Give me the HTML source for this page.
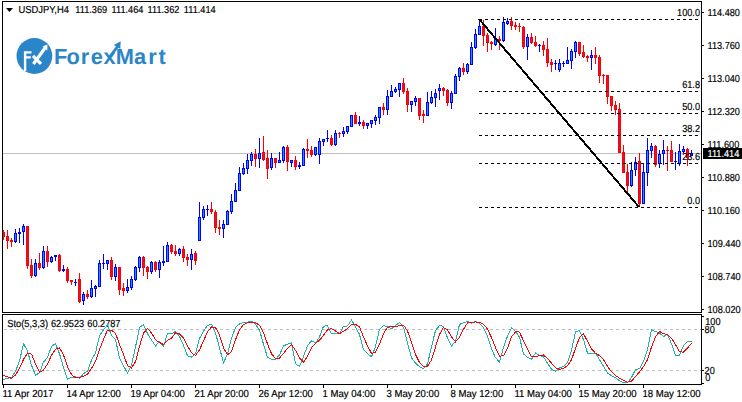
<!DOCTYPE html>
<html><head><meta charset="utf-8"><title>USDJPY H4</title>
<style>html,body{margin:0;padding:0;background:#fff}body{width:742px;height:402px;overflow:hidden}</style></head>
<body>
<svg width="742" height="402" viewBox="0 0 742 402" style="display:block;text-rendering:geometricPrecision;font-family:'Liberation Sans', Arial, sans-serif">
<rect width="742" height="402" fill="#fff"/>
<g shape-rendering="crispEdges">
<rect x="3" y="153" width="698" height="1" fill="#c0c0c0"/>
<rect x="3" y="230" width="1" height="10" fill="#ff0000"/>
<rect x="2" y="232" width="3" height="5" fill="#ff0000"/>
<rect x="3" y="233" width="1" height="3" fill="#dc143c"/>
<rect x="7" y="230" width="1" height="19" fill="#ff0000"/>
<rect x="6" y="236" width="3" height="5" fill="#ff0000"/>
<rect x="7" y="237" width="1" height="3" fill="#dc143c"/>
<rect x="11" y="238" width="1" height="9" fill="#ff0000"/>
<rect x="10" y="240" width="3" height="2" fill="#ff0000"/>
<rect x="15" y="229" width="1" height="14" fill="#0000ff"/>
<rect x="14" y="233" width="3" height="9" fill="#0000ff"/>
<rect x="15" y="234" width="1" height="7" fill="#1e90ff"/>
<rect x="19" y="228" width="1" height="15" fill="#0000ff"/>
<rect x="18" y="232" width="3" height="2" fill="#0000ff"/>
<rect x="23" y="224" width="1" height="21" fill="#0000ff"/>
<rect x="22" y="226" width="3" height="6" fill="#0000ff"/>
<rect x="23" y="227" width="1" height="4" fill="#1e90ff"/>
<rect x="27" y="226" width="1" height="43" fill="#ff0000"/>
<rect x="26" y="226" width="3" height="40" fill="#ff0000"/>
<rect x="27" y="227" width="1" height="38" fill="#dc143c"/>
<rect x="31" y="259" width="1" height="19" fill="#ff0000"/>
<rect x="30" y="265" width="3" height="11" fill="#ff0000"/>
<rect x="31" y="266" width="1" height="9" fill="#dc143c"/>
<rect x="35" y="259" width="1" height="18" fill="#0000ff"/>
<rect x="34" y="263" width="3" height="13" fill="#0000ff"/>
<rect x="35" y="264" width="1" height="11" fill="#1e90ff"/>
<rect x="39" y="253" width="1" height="17" fill="#ff0000"/>
<rect x="38" y="263" width="3" height="5" fill="#ff0000"/>
<rect x="39" y="264" width="1" height="3" fill="#dc143c"/>
<rect x="43" y="246" width="1" height="23" fill="#0000ff"/>
<rect x="42" y="251" width="3" height="17" fill="#0000ff"/>
<rect x="43" y="252" width="1" height="15" fill="#1e90ff"/>
<rect x="47" y="246" width="1" height="21" fill="#ff0000"/>
<rect x="46" y="251" width="3" height="11" fill="#ff0000"/>
<rect x="47" y="252" width="1" height="9" fill="#dc143c"/>
<rect x="51" y="256" width="1" height="7" fill="#0000ff"/>
<rect x="50" y="257" width="3" height="5" fill="#0000ff"/>
<rect x="51" y="258" width="1" height="3" fill="#1e90ff"/>
<rect x="55" y="255" width="1" height="6" fill="#0000ff"/>
<rect x="54" y="255" width="3" height="2" fill="#0000ff"/>
<rect x="59" y="254" width="1" height="18" fill="#ff0000"/>
<rect x="58" y="255" width="3" height="16" fill="#ff0000"/>
<rect x="59" y="256" width="1" height="14" fill="#dc143c"/>
<rect x="63" y="265" width="1" height="7" fill="#0000ff"/>
<rect x="62" y="269" width="3" height="2" fill="#0000ff"/>
<rect x="67" y="267" width="1" height="16" fill="#ff0000"/>
<rect x="66" y="269" width="3" height="12" fill="#ff0000"/>
<rect x="67" y="270" width="1" height="10" fill="#dc143c"/>
<rect x="71" y="280" width="1" height="5" fill="#ff0000"/>
<rect x="70" y="280" width="3" height="2" fill="#ff0000"/>
<rect x="75" y="279" width="1" height="7" fill="#0000ff"/>
<rect x="74" y="282" width="3" height="1" fill="#0000ff"/>
<rect x="79" y="273" width="1" height="30" fill="#ff0000"/>
<rect x="78" y="279" width="3" height="23" fill="#ff0000"/>
<rect x="79" y="280" width="1" height="21" fill="#dc143c"/>
<rect x="83" y="292" width="1" height="13" fill="#0000ff"/>
<rect x="82" y="294" width="3" height="7" fill="#0000ff"/>
<rect x="83" y="295" width="1" height="5" fill="#1e90ff"/>
<rect x="87" y="290" width="1" height="9" fill="#ff0000"/>
<rect x="86" y="294" width="3" height="3" fill="#ff0000"/>
<rect x="87" y="295" width="1" height="1" fill="#dc143c"/>
<rect x="91" y="280" width="1" height="18" fill="#0000ff"/>
<rect x="90" y="288" width="3" height="9" fill="#0000ff"/>
<rect x="91" y="289" width="1" height="7" fill="#1e90ff"/>
<rect x="95" y="285" width="1" height="12" fill="#0000ff"/>
<rect x="94" y="286" width="3" height="3" fill="#0000ff"/>
<rect x="95" y="287" width="1" height="1" fill="#1e90ff"/>
<rect x="99" y="260" width="1" height="27" fill="#0000ff"/>
<rect x="98" y="263" width="3" height="24" fill="#0000ff"/>
<rect x="99" y="264" width="1" height="22" fill="#1e90ff"/>
<rect x="103" y="254" width="1" height="15" fill="#0000ff"/>
<rect x="102" y="263" width="3" height="1" fill="#0000ff"/>
<rect x="107" y="260" width="1" height="10" fill="#0000ff"/>
<rect x="106" y="260" width="3" height="4" fill="#0000ff"/>
<rect x="107" y="261" width="1" height="2" fill="#1e90ff"/>
<rect x="111" y="257" width="1" height="23" fill="#ff0000"/>
<rect x="110" y="260" width="3" height="17" fill="#ff0000"/>
<rect x="111" y="261" width="1" height="15" fill="#dc143c"/>
<rect x="115" y="264" width="1" height="17" fill="#0000ff"/>
<rect x="114" y="267" width="3" height="10" fill="#0000ff"/>
<rect x="115" y="268" width="1" height="8" fill="#1e90ff"/>
<rect x="119" y="267" width="1" height="28" fill="#ff0000"/>
<rect x="118" y="267" width="3" height="23" fill="#ff0000"/>
<rect x="119" y="268" width="1" height="21" fill="#dc143c"/>
<rect x="123" y="283" width="1" height="13" fill="#ff0000"/>
<rect x="122" y="288" width="3" height="3" fill="#ff0000"/>
<rect x="123" y="289" width="1" height="1" fill="#dc143c"/>
<rect x="127" y="279" width="1" height="14" fill="#0000ff"/>
<rect x="126" y="287" width="3" height="4" fill="#0000ff"/>
<rect x="127" y="288" width="1" height="2" fill="#1e90ff"/>
<rect x="131" y="276" width="1" height="14" fill="#0000ff"/>
<rect x="130" y="279" width="3" height="9" fill="#0000ff"/>
<rect x="131" y="280" width="1" height="7" fill="#1e90ff"/>
<rect x="135" y="266" width="1" height="15" fill="#0000ff"/>
<rect x="134" y="267" width="3" height="13" fill="#0000ff"/>
<rect x="135" y="268" width="1" height="11" fill="#1e90ff"/>
<rect x="139" y="256" width="1" height="16" fill="#0000ff"/>
<rect x="138" y="257" width="3" height="11" fill="#0000ff"/>
<rect x="139" y="258" width="1" height="9" fill="#1e90ff"/>
<rect x="143" y="256" width="1" height="20" fill="#ff0000"/>
<rect x="142" y="257" width="3" height="11" fill="#ff0000"/>
<rect x="143" y="258" width="1" height="9" fill="#dc143c"/>
<rect x="147" y="266" width="1" height="13" fill="#ff0000"/>
<rect x="146" y="267" width="3" height="5" fill="#ff0000"/>
<rect x="147" y="268" width="1" height="3" fill="#dc143c"/>
<rect x="151" y="261" width="1" height="13" fill="#0000ff"/>
<rect x="150" y="262" width="3" height="10" fill="#0000ff"/>
<rect x="151" y="263" width="1" height="8" fill="#1e90ff"/>
<rect x="155" y="261" width="1" height="11" fill="#ff0000"/>
<rect x="154" y="262" width="3" height="8" fill="#ff0000"/>
<rect x="155" y="263" width="1" height="6" fill="#dc143c"/>
<rect x="159" y="260" width="1" height="18" fill="#0000ff"/>
<rect x="158" y="262" width="3" height="8" fill="#0000ff"/>
<rect x="159" y="263" width="1" height="6" fill="#1e90ff"/>
<rect x="163" y="246" width="1" height="20" fill="#0000ff"/>
<rect x="162" y="261" width="3" height="2" fill="#0000ff"/>
<rect x="167" y="242" width="1" height="20" fill="#0000ff"/>
<rect x="166" y="245" width="3" height="17" fill="#0000ff"/>
<rect x="167" y="246" width="1" height="15" fill="#1e90ff"/>
<rect x="171" y="244" width="1" height="10" fill="#ff0000"/>
<rect x="170" y="245" width="3" height="7" fill="#ff0000"/>
<rect x="171" y="246" width="1" height="5" fill="#dc143c"/>
<rect x="175" y="245" width="1" height="11" fill="#ff0000"/>
<rect x="174" y="251" width="3" height="3" fill="#ff0000"/>
<rect x="175" y="252" width="1" height="1" fill="#dc143c"/>
<rect x="179" y="248" width="1" height="8" fill="#0000ff"/>
<rect x="178" y="249" width="3" height="5" fill="#0000ff"/>
<rect x="179" y="250" width="1" height="3" fill="#1e90ff"/>
<rect x="183" y="246" width="1" height="16" fill="#ff0000"/>
<rect x="182" y="249" width="3" height="9" fill="#ff0000"/>
<rect x="183" y="250" width="1" height="7" fill="#dc143c"/>
<rect x="187" y="254" width="1" height="12" fill="#ff0000"/>
<rect x="186" y="257" width="3" height="3" fill="#ff0000"/>
<rect x="187" y="258" width="1" height="1" fill="#dc143c"/>
<rect x="191" y="249" width="1" height="21" fill="#0000ff"/>
<rect x="190" y="254" width="3" height="6" fill="#0000ff"/>
<rect x="191" y="255" width="1" height="4" fill="#1e90ff"/>
<rect x="195" y="251" width="1" height="14" fill="#ff0000"/>
<rect x="194" y="253" width="3" height="8" fill="#ff0000"/>
<rect x="195" y="254" width="1" height="6" fill="#dc143c"/>
<rect x="199" y="202" width="1" height="39" fill="#0000ff"/>
<rect x="198" y="217" width="3" height="24" fill="#0000ff"/>
<rect x="199" y="218" width="1" height="22" fill="#1e90ff"/>
<rect x="203" y="206" width="1" height="14" fill="#0000ff"/>
<rect x="202" y="209" width="3" height="9" fill="#0000ff"/>
<rect x="203" y="210" width="1" height="7" fill="#1e90ff"/>
<rect x="207" y="205" width="1" height="11" fill="#0000ff"/>
<rect x="206" y="209" width="3" height="1" fill="#0000ff"/>
<rect x="211" y="202" width="1" height="12" fill="#ff0000"/>
<rect x="210" y="209" width="3" height="3" fill="#ff0000"/>
<rect x="211" y="210" width="1" height="1" fill="#dc143c"/>
<rect x="215" y="210" width="1" height="23" fill="#ff0000"/>
<rect x="214" y="212" width="3" height="16" fill="#ff0000"/>
<rect x="215" y="213" width="1" height="14" fill="#dc143c"/>
<rect x="219" y="220" width="1" height="15" fill="#ff0000"/>
<rect x="218" y="227" width="3" height="2" fill="#ff0000"/>
<rect x="223" y="220" width="1" height="18" fill="#0000ff"/>
<rect x="222" y="224" width="3" height="5" fill="#0000ff"/>
<rect x="223" y="225" width="1" height="3" fill="#1e90ff"/>
<rect x="227" y="210" width="1" height="15" fill="#0000ff"/>
<rect x="226" y="211" width="3" height="14" fill="#0000ff"/>
<rect x="227" y="212" width="1" height="12" fill="#1e90ff"/>
<rect x="231" y="194" width="1" height="20" fill="#0000ff"/>
<rect x="230" y="201" width="3" height="11" fill="#0000ff"/>
<rect x="231" y="202" width="1" height="9" fill="#1e90ff"/>
<rect x="235" y="183" width="1" height="19" fill="#0000ff"/>
<rect x="234" y="190" width="3" height="12" fill="#0000ff"/>
<rect x="235" y="191" width="1" height="10" fill="#1e90ff"/>
<rect x="239" y="167" width="1" height="24" fill="#0000ff"/>
<rect x="238" y="173" width="3" height="18" fill="#0000ff"/>
<rect x="239" y="174" width="1" height="16" fill="#1e90ff"/>
<rect x="243" y="163" width="1" height="12" fill="#0000ff"/>
<rect x="242" y="168" width="3" height="6" fill="#0000ff"/>
<rect x="243" y="169" width="1" height="4" fill="#1e90ff"/>
<rect x="247" y="154" width="1" height="20" fill="#0000ff"/>
<rect x="246" y="160" width="3" height="9" fill="#0000ff"/>
<rect x="247" y="161" width="1" height="7" fill="#1e90ff"/>
<rect x="251" y="152" width="1" height="14" fill="#0000ff"/>
<rect x="250" y="154" width="3" height="7" fill="#0000ff"/>
<rect x="251" y="155" width="1" height="5" fill="#1e90ff"/>
<rect x="255" y="149" width="1" height="18" fill="#ff0000"/>
<rect x="254" y="154" width="3" height="5" fill="#ff0000"/>
<rect x="255" y="155" width="1" height="3" fill="#dc143c"/>
<rect x="259" y="138" width="1" height="30" fill="#0000ff"/>
<rect x="258" y="153" width="3" height="6" fill="#0000ff"/>
<rect x="259" y="154" width="1" height="4" fill="#1e90ff"/>
<rect x="263" y="136" width="1" height="25" fill="#ff0000"/>
<rect x="262" y="152" width="3" height="8" fill="#ff0000"/>
<rect x="263" y="153" width="1" height="6" fill="#dc143c"/>
<rect x="267" y="150" width="1" height="29" fill="#ff0000"/>
<rect x="266" y="158" width="3" height="11" fill="#ff0000"/>
<rect x="267" y="159" width="1" height="9" fill="#dc143c"/>
<rect x="271" y="153" width="1" height="17" fill="#0000ff"/>
<rect x="270" y="158" width="3" height="10" fill="#0000ff"/>
<rect x="271" y="159" width="1" height="8" fill="#1e90ff"/>
<rect x="275" y="158" width="1" height="10" fill="#ff0000"/>
<rect x="274" y="158" width="3" height="5" fill="#ff0000"/>
<rect x="275" y="159" width="1" height="3" fill="#dc143c"/>
<rect x="279" y="152" width="1" height="11" fill="#0000ff"/>
<rect x="278" y="160" width="3" height="3" fill="#0000ff"/>
<rect x="279" y="161" width="1" height="1" fill="#1e90ff"/>
<rect x="283" y="146" width="1" height="17" fill="#0000ff"/>
<rect x="282" y="147" width="3" height="14" fill="#0000ff"/>
<rect x="283" y="148" width="1" height="12" fill="#1e90ff"/>
<rect x="287" y="145" width="1" height="26" fill="#ff0000"/>
<rect x="286" y="147" width="3" height="15" fill="#ff0000"/>
<rect x="287" y="148" width="1" height="13" fill="#dc143c"/>
<rect x="291" y="160" width="1" height="7" fill="#0000ff"/>
<rect x="290" y="160" width="3" height="3" fill="#0000ff"/>
<rect x="291" y="161" width="1" height="1" fill="#1e90ff"/>
<rect x="295" y="156" width="1" height="14" fill="#ff0000"/>
<rect x="294" y="160" width="3" height="7" fill="#ff0000"/>
<rect x="295" y="161" width="1" height="5" fill="#dc143c"/>
<rect x="299" y="162" width="1" height="7" fill="#0000ff"/>
<rect x="298" y="165" width="3" height="2" fill="#0000ff"/>
<rect x="303" y="148" width="1" height="18" fill="#0000ff"/>
<rect x="302" y="149" width="3" height="17" fill="#0000ff"/>
<rect x="303" y="150" width="1" height="15" fill="#1e90ff"/>
<rect x="307" y="139" width="1" height="19" fill="#ff0000"/>
<rect x="306" y="149" width="3" height="2" fill="#ff0000"/>
<rect x="311" y="146" width="1" height="11" fill="#ff0000"/>
<rect x="310" y="150" width="3" height="5" fill="#ff0000"/>
<rect x="311" y="151" width="1" height="3" fill="#dc143c"/>
<rect x="315" y="147" width="1" height="9" fill="#0000ff"/>
<rect x="314" y="147" width="3" height="8" fill="#0000ff"/>
<rect x="315" y="148" width="1" height="6" fill="#1e90ff"/>
<rect x="319" y="138" width="1" height="26" fill="#0000ff"/>
<rect x="318" y="141" width="3" height="14" fill="#0000ff"/>
<rect x="319" y="142" width="1" height="12" fill="#1e90ff"/>
<rect x="323" y="139" width="1" height="7" fill="#0000ff"/>
<rect x="322" y="139" width="3" height="3" fill="#0000ff"/>
<rect x="323" y="140" width="1" height="1" fill="#1e90ff"/>
<rect x="327" y="130" width="1" height="12" fill="#0000ff"/>
<rect x="326" y="138" width="3" height="1" fill="#0000ff"/>
<rect x="331" y="135" width="1" height="11" fill="#ff0000"/>
<rect x="330" y="138" width="3" height="7" fill="#ff0000"/>
<rect x="331" y="139" width="1" height="5" fill="#dc143c"/>
<rect x="335" y="130" width="1" height="16" fill="#0000ff"/>
<rect x="334" y="133" width="3" height="12" fill="#0000ff"/>
<rect x="335" y="134" width="1" height="10" fill="#1e90ff"/>
<rect x="339" y="132" width="1" height="6" fill="#ff0000"/>
<rect x="338" y="133" width="3" height="1" fill="#ff0000"/>
<rect x="343" y="127" width="1" height="10" fill="#0000ff"/>
<rect x="342" y="131" width="3" height="3" fill="#0000ff"/>
<rect x="343" y="132" width="1" height="1" fill="#1e90ff"/>
<rect x="347" y="126" width="1" height="8" fill="#0000ff"/>
<rect x="346" y="126" width="3" height="6" fill="#0000ff"/>
<rect x="347" y="127" width="1" height="4" fill="#1e90ff"/>
<rect x="351" y="115" width="1" height="12" fill="#0000ff"/>
<rect x="350" y="115" width="3" height="12" fill="#0000ff"/>
<rect x="351" y="116" width="1" height="10" fill="#1e90ff"/>
<rect x="355" y="112" width="1" height="12" fill="#ff0000"/>
<rect x="354" y="115" width="3" height="9" fill="#ff0000"/>
<rect x="355" y="116" width="1" height="7" fill="#dc143c"/>
<rect x="359" y="116" width="1" height="10" fill="#0000ff"/>
<rect x="358" y="122" width="3" height="2" fill="#0000ff"/>
<rect x="363" y="120" width="1" height="9" fill="#ff0000"/>
<rect x="362" y="122" width="3" height="4" fill="#ff0000"/>
<rect x="363" y="123" width="1" height="2" fill="#dc143c"/>
<rect x="367" y="123" width="1" height="6" fill="#0000ff"/>
<rect x="366" y="123" width="3" height="3" fill="#0000ff"/>
<rect x="367" y="124" width="1" height="1" fill="#1e90ff"/>
<rect x="371" y="120" width="1" height="8" fill="#0000ff"/>
<rect x="370" y="120" width="3" height="4" fill="#0000ff"/>
<rect x="371" y="121" width="1" height="2" fill="#1e90ff"/>
<rect x="375" y="115" width="1" height="10" fill="#0000ff"/>
<rect x="374" y="117" width="3" height="4" fill="#0000ff"/>
<rect x="375" y="118" width="1" height="2" fill="#1e90ff"/>
<rect x="379" y="107" width="1" height="17" fill="#0000ff"/>
<rect x="378" y="107" width="3" height="11" fill="#0000ff"/>
<rect x="379" y="108" width="1" height="9" fill="#1e90ff"/>
<rect x="383" y="103" width="1" height="12" fill="#ff0000"/>
<rect x="382" y="107" width="3" height="3" fill="#ff0000"/>
<rect x="383" y="108" width="1" height="1" fill="#dc143c"/>
<rect x="387" y="90" width="1" height="25" fill="#0000ff"/>
<rect x="386" y="96" width="3" height="14" fill="#0000ff"/>
<rect x="387" y="97" width="1" height="12" fill="#1e90ff"/>
<rect x="391" y="85" width="1" height="12" fill="#0000ff"/>
<rect x="390" y="91" width="3" height="6" fill="#0000ff"/>
<rect x="391" y="92" width="1" height="4" fill="#1e90ff"/>
<rect x="395" y="87" width="1" height="6" fill="#0000ff"/>
<rect x="394" y="89" width="3" height="3" fill="#0000ff"/>
<rect x="395" y="90" width="1" height="1" fill="#1e90ff"/>
<rect x="399" y="83" width="1" height="14" fill="#0000ff"/>
<rect x="398" y="83" width="3" height="7" fill="#0000ff"/>
<rect x="399" y="84" width="1" height="5" fill="#1e90ff"/>
<rect x="403" y="78" width="1" height="16" fill="#ff0000"/>
<rect x="402" y="83" width="3" height="9" fill="#ff0000"/>
<rect x="403" y="84" width="1" height="7" fill="#dc143c"/>
<rect x="407" y="88" width="1" height="24" fill="#ff0000"/>
<rect x="406" y="91" width="3" height="14" fill="#ff0000"/>
<rect x="407" y="92" width="1" height="12" fill="#dc143c"/>
<rect x="411" y="101" width="1" height="11" fill="#0000ff"/>
<rect x="410" y="101" width="3" height="4" fill="#0000ff"/>
<rect x="411" y="102" width="1" height="2" fill="#1e90ff"/>
<rect x="415" y="96" width="1" height="10" fill="#0000ff"/>
<rect x="414" y="98" width="3" height="4" fill="#0000ff"/>
<rect x="415" y="99" width="1" height="2" fill="#1e90ff"/>
<rect x="419" y="98" width="1" height="22" fill="#ff0000"/>
<rect x="418" y="98" width="3" height="18" fill="#ff0000"/>
<rect x="419" y="99" width="1" height="16" fill="#dc143c"/>
<rect x="423" y="110" width="1" height="13" fill="#ff0000"/>
<rect x="422" y="114" width="3" height="2" fill="#ff0000"/>
<rect x="427" y="92" width="1" height="24" fill="#0000ff"/>
<rect x="426" y="102" width="3" height="14" fill="#0000ff"/>
<rect x="427" y="103" width="1" height="12" fill="#1e90ff"/>
<rect x="431" y="91" width="1" height="13" fill="#0000ff"/>
<rect x="430" y="97" width="3" height="6" fill="#0000ff"/>
<rect x="431" y="98" width="1" height="4" fill="#1e90ff"/>
<rect x="435" y="89" width="1" height="18" fill="#0000ff"/>
<rect x="434" y="93" width="3" height="5" fill="#0000ff"/>
<rect x="435" y="94" width="1" height="3" fill="#1e90ff"/>
<rect x="439" y="84" width="1" height="16" fill="#0000ff"/>
<rect x="438" y="88" width="3" height="3" fill="#0000ff"/>
<rect x="439" y="89" width="1" height="1" fill="#1e90ff"/>
<rect x="443" y="87" width="1" height="9" fill="#ff0000"/>
<rect x="442" y="88" width="3" height="3" fill="#ff0000"/>
<rect x="443" y="89" width="1" height="1" fill="#dc143c"/>
<rect x="447" y="89" width="1" height="17" fill="#ff0000"/>
<rect x="446" y="90" width="3" height="13" fill="#ff0000"/>
<rect x="447" y="91" width="1" height="11" fill="#dc143c"/>
<rect x="451" y="91" width="1" height="18" fill="#0000ff"/>
<rect x="450" y="93" width="3" height="10" fill="#0000ff"/>
<rect x="451" y="94" width="1" height="8" fill="#1e90ff"/>
<rect x="455" y="74" width="1" height="20" fill="#0000ff"/>
<rect x="454" y="76" width="3" height="18" fill="#0000ff"/>
<rect x="455" y="77" width="1" height="16" fill="#1e90ff"/>
<rect x="459" y="67" width="1" height="14" fill="#0000ff"/>
<rect x="458" y="68" width="3" height="9" fill="#0000ff"/>
<rect x="459" y="69" width="1" height="7" fill="#1e90ff"/>
<rect x="463" y="63" width="1" height="12" fill="#ff0000"/>
<rect x="462" y="68" width="3" height="4" fill="#ff0000"/>
<rect x="463" y="69" width="1" height="2" fill="#dc143c"/>
<rect x="467" y="63" width="1" height="11" fill="#0000ff"/>
<rect x="466" y="64" width="3" height="8" fill="#0000ff"/>
<rect x="467" y="65" width="1" height="6" fill="#1e90ff"/>
<rect x="471" y="42" width="1" height="23" fill="#0000ff"/>
<rect x="470" y="47" width="3" height="18" fill="#0000ff"/>
<rect x="471" y="48" width="1" height="16" fill="#1e90ff"/>
<rect x="475" y="29" width="1" height="20" fill="#0000ff"/>
<rect x="474" y="34" width="3" height="14" fill="#0000ff"/>
<rect x="475" y="35" width="1" height="12" fill="#1e90ff"/>
<rect x="479" y="19" width="1" height="16" fill="#0000ff"/>
<rect x="478" y="26" width="3" height="9" fill="#0000ff"/>
<rect x="479" y="27" width="1" height="7" fill="#1e90ff"/>
<rect x="483" y="20" width="1" height="26" fill="#ff0000"/>
<rect x="482" y="26" width="3" height="10" fill="#ff0000"/>
<rect x="483" y="27" width="1" height="8" fill="#dc143c"/>
<rect x="487" y="33" width="1" height="19" fill="#ff0000"/>
<rect x="486" y="35" width="3" height="8" fill="#ff0000"/>
<rect x="487" y="36" width="1" height="6" fill="#dc143c"/>
<rect x="491" y="41" width="1" height="9" fill="#ff0000"/>
<rect x="490" y="42" width="3" height="2" fill="#ff0000"/>
<rect x="495" y="28" width="1" height="18" fill="#0000ff"/>
<rect x="494" y="39" width="3" height="6" fill="#0000ff"/>
<rect x="495" y="40" width="1" height="4" fill="#1e90ff"/>
<rect x="499" y="36" width="1" height="14" fill="#ff0000"/>
<rect x="498" y="39" width="3" height="2" fill="#ff0000"/>
<rect x="503" y="17" width="1" height="25" fill="#0000ff"/>
<rect x="502" y="22" width="3" height="19" fill="#0000ff"/>
<rect x="503" y="23" width="1" height="17" fill="#1e90ff"/>
<rect x="507" y="18" width="1" height="7" fill="#0000ff"/>
<rect x="506" y="21" width="3" height="3" fill="#0000ff"/>
<rect x="507" y="22" width="1" height="1" fill="#1e90ff"/>
<rect x="511" y="17" width="1" height="13" fill="#ff0000"/>
<rect x="510" y="21" width="3" height="5" fill="#ff0000"/>
<rect x="511" y="22" width="1" height="3" fill="#dc143c"/>
<rect x="515" y="22" width="1" height="8" fill="#ff0000"/>
<rect x="514" y="25" width="3" height="2" fill="#ff0000"/>
<rect x="519" y="23" width="1" height="9" fill="#ff0000"/>
<rect x="518" y="26" width="3" height="1" fill="#ff0000"/>
<rect x="523" y="26" width="1" height="23" fill="#ff0000"/>
<rect x="522" y="27" width="3" height="20" fill="#ff0000"/>
<rect x="523" y="28" width="1" height="18" fill="#dc143c"/>
<rect x="527" y="34" width="1" height="26" fill="#0000ff"/>
<rect x="526" y="37" width="3" height="10" fill="#0000ff"/>
<rect x="527" y="38" width="1" height="8" fill="#1e90ff"/>
<rect x="531" y="33" width="1" height="11" fill="#ff0000"/>
<rect x="530" y="37" width="3" height="6" fill="#ff0000"/>
<rect x="531" y="38" width="1" height="4" fill="#dc143c"/>
<rect x="535" y="36" width="1" height="11" fill="#ff0000"/>
<rect x="534" y="42" width="3" height="4" fill="#ff0000"/>
<rect x="535" y="43" width="1" height="2" fill="#dc143c"/>
<rect x="539" y="44" width="1" height="8" fill="#0000ff"/>
<rect x="538" y="45" width="3" height="1" fill="#0000ff"/>
<rect x="543" y="41" width="1" height="15" fill="#ff0000"/>
<rect x="542" y="45" width="3" height="5" fill="#ff0000"/>
<rect x="543" y="46" width="1" height="3" fill="#dc143c"/>
<rect x="547" y="38" width="1" height="29" fill="#ff0000"/>
<rect x="546" y="49" width="3" height="14" fill="#ff0000"/>
<rect x="547" y="50" width="1" height="12" fill="#dc143c"/>
<rect x="551" y="59" width="1" height="13" fill="#ff0000"/>
<rect x="550" y="62" width="3" height="3" fill="#ff0000"/>
<rect x="551" y="63" width="1" height="1" fill="#dc143c"/>
<rect x="555" y="60" width="1" height="10" fill="#0000ff"/>
<rect x="554" y="63" width="3" height="1" fill="#0000ff"/>
<rect x="559" y="59" width="1" height="13" fill="#0000ff"/>
<rect x="558" y="63" width="3" height="7" fill="#0000ff"/>
<rect x="559" y="64" width="1" height="5" fill="#1e90ff"/>
<rect x="563" y="61" width="1" height="6" fill="#0000ff"/>
<rect x="562" y="63" width="3" height="1" fill="#0000ff"/>
<rect x="567" y="47" width="1" height="17" fill="#0000ff"/>
<rect x="566" y="60" width="3" height="4" fill="#0000ff"/>
<rect x="567" y="61" width="1" height="2" fill="#1e90ff"/>
<rect x="571" y="49" width="1" height="20" fill="#0000ff"/>
<rect x="570" y="51" width="3" height="10" fill="#0000ff"/>
<rect x="571" y="52" width="1" height="8" fill="#1e90ff"/>
<rect x="575" y="41" width="1" height="17" fill="#0000ff"/>
<rect x="574" y="42" width="3" height="10" fill="#0000ff"/>
<rect x="575" y="43" width="1" height="8" fill="#1e90ff"/>
<rect x="579" y="42" width="1" height="14" fill="#ff0000"/>
<rect x="578" y="42" width="3" height="12" fill="#ff0000"/>
<rect x="579" y="43" width="1" height="10" fill="#dc143c"/>
<rect x="583" y="45" width="1" height="13" fill="#ff0000"/>
<rect x="582" y="52" width="3" height="5" fill="#ff0000"/>
<rect x="583" y="53" width="1" height="3" fill="#dc143c"/>
<rect x="587" y="55" width="1" height="7" fill="#ff0000"/>
<rect x="586" y="56" width="3" height="2" fill="#ff0000"/>
<rect x="591" y="50" width="1" height="20" fill="#0000ff"/>
<rect x="590" y="55" width="3" height="3" fill="#0000ff"/>
<rect x="591" y="56" width="1" height="1" fill="#1e90ff"/>
<rect x="595" y="47" width="1" height="17" fill="#ff0000"/>
<rect x="594" y="55" width="3" height="3" fill="#ff0000"/>
<rect x="595" y="56" width="1" height="1" fill="#dc143c"/>
<rect x="599" y="55" width="1" height="28" fill="#ff0000"/>
<rect x="598" y="57" width="3" height="19" fill="#ff0000"/>
<rect x="599" y="58" width="1" height="17" fill="#dc143c"/>
<rect x="603" y="74" width="1" height="10" fill="#ff0000"/>
<rect x="602" y="75" width="3" height="1" fill="#ff0000"/>
<rect x="607" y="75" width="1" height="29" fill="#ff0000"/>
<rect x="606" y="75" width="3" height="22" fill="#ff0000"/>
<rect x="607" y="76" width="1" height="20" fill="#dc143c"/>
<rect x="611" y="96" width="1" height="15" fill="#ff0000"/>
<rect x="610" y="96" width="3" height="10" fill="#ff0000"/>
<rect x="611" y="97" width="1" height="8" fill="#dc143c"/>
<rect x="615" y="101" width="1" height="14" fill="#ff0000"/>
<rect x="614" y="105" width="3" height="5" fill="#ff0000"/>
<rect x="615" y="106" width="1" height="3" fill="#dc143c"/>
<rect x="619" y="103" width="1" height="50" fill="#ff0000"/>
<rect x="618" y="109" width="3" height="44" fill="#ff0000"/>
<rect x="619" y="110" width="1" height="42" fill="#dc143c"/>
<rect x="623" y="145" width="1" height="28" fill="#ff0000"/>
<rect x="622" y="152" width="3" height="21" fill="#ff0000"/>
<rect x="623" y="153" width="1" height="19" fill="#dc143c"/>
<rect x="627" y="164" width="1" height="28" fill="#ff0000"/>
<rect x="626" y="172" width="3" height="14" fill="#ff0000"/>
<rect x="627" y="173" width="1" height="12" fill="#dc143c"/>
<rect x="631" y="162" width="1" height="25" fill="#0000ff"/>
<rect x="630" y="170" width="3" height="16" fill="#0000ff"/>
<rect x="631" y="171" width="1" height="14" fill="#1e90ff"/>
<rect x="635" y="157" width="1" height="19" fill="#0000ff"/>
<rect x="634" y="162" width="3" height="8" fill="#0000ff"/>
<rect x="635" y="163" width="1" height="6" fill="#1e90ff"/>
<rect x="639" y="153" width="1" height="53" fill="#ff0000"/>
<rect x="638" y="161" width="3" height="43" fill="#ff0000"/>
<rect x="639" y="162" width="1" height="41" fill="#dc143c"/>
<rect x="643" y="163" width="1" height="41" fill="#0000ff"/>
<rect x="642" y="172" width="3" height="32" fill="#0000ff"/>
<rect x="643" y="173" width="1" height="30" fill="#1e90ff"/>
<rect x="647" y="138" width="1" height="48" fill="#0000ff"/>
<rect x="646" y="150" width="3" height="23" fill="#0000ff"/>
<rect x="647" y="151" width="1" height="21" fill="#1e90ff"/>
<rect x="651" y="143" width="1" height="15" fill="#0000ff"/>
<rect x="650" y="146" width="3" height="5" fill="#0000ff"/>
<rect x="651" y="147" width="1" height="3" fill="#1e90ff"/>
<rect x="655" y="145" width="1" height="22" fill="#ff0000"/>
<rect x="654" y="146" width="3" height="19" fill="#ff0000"/>
<rect x="655" y="147" width="1" height="17" fill="#dc143c"/>
<rect x="659" y="150" width="1" height="18" fill="#0000ff"/>
<rect x="658" y="154" width="3" height="10" fill="#0000ff"/>
<rect x="659" y="155" width="1" height="8" fill="#1e90ff"/>
<rect x="663" y="140" width="1" height="25" fill="#0000ff"/>
<rect x="662" y="150" width="3" height="4" fill="#0000ff"/>
<rect x="663" y="151" width="1" height="2" fill="#1e90ff"/>
<rect x="667" y="146" width="1" height="25" fill="#ff0000"/>
<rect x="666" y="150" width="3" height="1" fill="#ff0000"/>
<rect x="671" y="141" width="1" height="21" fill="#ff0000"/>
<rect x="670" y="150" width="3" height="12" fill="#ff0000"/>
<rect x="671" y="151" width="1" height="10" fill="#dc143c"/>
<rect x="675" y="152" width="1" height="18" fill="#0000ff"/>
<rect x="674" y="161" width="3" height="1" fill="#0000ff"/>
<rect x="679" y="144" width="1" height="22" fill="#0000ff"/>
<rect x="678" y="151" width="3" height="13" fill="#0000ff"/>
<rect x="679" y="152" width="1" height="11" fill="#1e90ff"/>
<rect x="683" y="146" width="1" height="7" fill="#0000ff"/>
<rect x="682" y="149" width="3" height="3" fill="#0000ff"/>
<rect x="683" y="150" width="1" height="1" fill="#1e90ff"/>
<rect x="687" y="148" width="1" height="18" fill="#ff0000"/>
<rect x="686" y="149" width="3" height="9" fill="#ff0000"/>
<rect x="687" y="150" width="1" height="7" fill="#dc143c"/>
<rect x="691" y="150" width="1" height="6" fill="#0000ff"/>
<rect x="690" y="153" width="3" height="3" fill="#0000ff"/>
<rect x="691" y="154" width="1" height="1" fill="#1e90ff"/>
<rect x="2" y="1" width="700" height="1" fill="#000"/>
<rect x="2" y="312" width="700" height="1" fill="#000"/>
<rect x="2" y="1" width="1" height="312" fill="#000"/>
<rect x="701" y="1" width="1" height="312" fill="#000"/>
<rect x="2" y="314" width="700" height="1" fill="#000"/>
<rect x="2" y="384" width="700" height="1" fill="#000"/>
<rect x="2" y="314" width="1" height="71" fill="#000"/>
<rect x="701" y="314" width="1" height="71" fill="#000"/>
<rect x="702" y="12" width="2" height="1" fill="#000"/>
<rect x="702" y="45" width="2" height="1" fill="#000"/>
<rect x="702" y="78" width="2" height="1" fill="#000"/>
<rect x="702" y="111" width="2" height="1" fill="#000"/>
<rect x="702" y="144" width="2" height="1" fill="#000"/>
<rect x="702" y="177" width="2" height="1" fill="#000"/>
<rect x="702" y="210" width="2" height="1" fill="#000"/>
<rect x="702" y="243" width="2" height="1" fill="#000"/>
<rect x="702" y="276" width="2" height="1" fill="#000"/>
<rect x="702" y="309" width="2" height="1" fill="#000"/>
<rect x="702" y="316" width="2" height="1" fill="#000"/>
<rect x="702" y="329" width="2" height="1" fill="#000"/>
<rect x="702" y="370" width="2" height="1" fill="#000"/>
<rect x="702" y="383" width="2" height="1" fill="#000"/>
<rect x="3" y="385" width="1" height="3" fill="#000"/>
<rect x="67" y="385" width="1" height="3" fill="#000"/>
<rect x="131" y="385" width="1" height="3" fill="#000"/>
<rect x="195" y="385" width="1" height="3" fill="#000"/>
<rect x="259" y="385" width="1" height="3" fill="#000"/>
<rect x="323" y="385" width="1" height="3" fill="#000"/>
<rect x="387" y="385" width="1" height="3" fill="#000"/>
<rect x="451" y="385" width="1" height="3" fill="#000"/>
<rect x="515" y="385" width="1" height="3" fill="#000"/>
<rect x="579" y="385" width="1" height="3" fill="#000"/>
<rect x="643" y="385" width="1" height="3" fill="#000"/>
<line x1="4" y1="329.5" x2="701" y2="329.5" stroke="#c0c0c0" stroke-width="1" stroke-dasharray="3 3"/>
<line x1="4" y1="370.5" x2="701" y2="370.5" stroke="#c0c0c0" stroke-width="1" stroke-dasharray="3 3"/>
<line x1="479" y1="19.5" x2="699" y2="19.5" stroke="#000" stroke-width="1" stroke-dasharray="3 3"/>
<line x1="479" y1="91.5" x2="699" y2="91.5" stroke="#000" stroke-width="1" stroke-dasharray="3 3"/>
<line x1="479" y1="113.5" x2="699" y2="113.5" stroke="#000" stroke-width="1" stroke-dasharray="3 3"/>
<line x1="479" y1="135.5" x2="699" y2="135.5" stroke="#000" stroke-width="1" stroke-dasharray="3 3"/>
<line x1="479" y1="163.5" x2="699" y2="163.5" stroke="#000" stroke-width="1" stroke-dasharray="3 3"/>
<line x1="479" y1="207.5" x2="699" y2="207.5" stroke="#000" stroke-width="1" stroke-dasharray="3 3"/>
<line x1="479" y1="19" x2="639" y2="207" stroke="#000" stroke-width="2"/>
</g>
<text transform="translate(707.5,16) scale(0.9,1)" font-size="10.2" text-anchor="start" fill="#000" stroke="#000" stroke-width="0.18" >114.480</text>
<text transform="translate(707.5,49) scale(0.9,1)" font-size="10.2" text-anchor="start" fill="#000" stroke="#000" stroke-width="0.18" >113.760</text>
<text transform="translate(707.5,82) scale(0.9,1)" font-size="10.2" text-anchor="start" fill="#000" stroke="#000" stroke-width="0.18" >113.040</text>
<text transform="translate(707.5,115) scale(0.9,1)" font-size="10.2" text-anchor="start" fill="#000" stroke="#000" stroke-width="0.18" >112.320</text>
<text transform="translate(707.5,148) scale(0.9,1)" font-size="10.2" text-anchor="start" fill="#000" stroke="#000" stroke-width="0.18" >111.600</text>
<text transform="translate(707.5,181) scale(0.9,1)" font-size="10.2" text-anchor="start" fill="#000" stroke="#000" stroke-width="0.18" >110.880</text>
<text transform="translate(707.5,214) scale(0.9,1)" font-size="10.2" text-anchor="start" fill="#000" stroke="#000" stroke-width="0.18" >110.160</text>
<text transform="translate(707.5,247) scale(0.9,1)" font-size="10.2" text-anchor="start" fill="#000" stroke="#000" stroke-width="0.18" >109.440</text>
<text transform="translate(707.5,280) scale(0.9,1)" font-size="10.2" text-anchor="start" fill="#000" stroke="#000" stroke-width="0.18" >108.740</text>
<text transform="translate(707.5,313) scale(0.9,1)" font-size="10.2" text-anchor="start" fill="#000" stroke="#000" stroke-width="0.18" >108.020</text>
<rect x="703" y="148" width="39" height="11" fill="#000" shape-rendering="crispEdges"/>
<text transform="translate(707.5,157) scale(0.9,1)" font-size="10.2" text-anchor="start" fill="#fff" stroke="#fff" stroke-width="0.18" >111.414</text>
<text transform="translate(700,16.2) scale(0.9,1)" font-size="10.2" text-anchor="end" fill="#000" stroke="#000" stroke-width="0.18" >100.0</text>
<text transform="translate(700,88.2) scale(0.9,1)" font-size="10.2" text-anchor="end" fill="#000" stroke="#000" stroke-width="0.18" >61.8</text>
<text transform="translate(700,110.2) scale(0.9,1)" font-size="10.2" text-anchor="end" fill="#000" stroke="#000" stroke-width="0.18" >50.0</text>
<text transform="translate(700,132.2) scale(0.9,1)" font-size="10.2" text-anchor="end" fill="#000" stroke="#000" stroke-width="0.18" >38.2</text>
<text transform="translate(700,160.2) scale(0.9,1)" font-size="10.2" text-anchor="end" fill="#000" stroke="#000" stroke-width="0.18" >23.6</text>
<text transform="translate(700,204.2) scale(0.9,1)" font-size="10.2" text-anchor="end" fill="#000" stroke="#000" stroke-width="0.18" >0.0</text>
<text transform="translate(705.2,325) scale(0.9,1)" font-size="10.2" text-anchor="start" fill="#000" stroke="#000" stroke-width="0.18" >100</text>
<text transform="translate(704.6,333.2) scale(0.9,1)" font-size="10.2" text-anchor="start" fill="#000" stroke="#000" stroke-width="0.18" >80</text>
<text transform="translate(704.6,373.6) scale(0.9,1)" font-size="10.2" text-anchor="start" fill="#000" stroke="#000" stroke-width="0.18" >20</text>
<text transform="translate(705.2,381) scale(0.9,1)" font-size="10.2" text-anchor="start" fill="#000" stroke="#000" stroke-width="0.18" >0</text>
<path d="M6 8h7l-3.5 4z" fill="#000"/>
<text transform="translate(18.4,12.8) scale(0.925,1)" font-size="10.2" text-anchor="start" fill="#000" stroke="#000" stroke-width="0.18" >USDJPY,H4</text>
<text transform="translate(75.3,12.8) scale(0.9,1)" font-size="10.2" text-anchor="start" fill="#000" stroke="#000" stroke-width="0.18" >111.369</text>
<text transform="translate(111.6,12.8) scale(0.9,1)" font-size="10.2" text-anchor="start" fill="#000" stroke="#000" stroke-width="0.18" >111.464</text>
<text transform="translate(147.6,12.8) scale(0.9,1)" font-size="10.2" text-anchor="start" fill="#000" stroke="#000" stroke-width="0.18" >111.362</text>
<text transform="translate(183.8,12.8) scale(0.9,1)" font-size="10.2" text-anchor="start" fill="#000" stroke="#000" stroke-width="0.18" >111.414</text>
<text transform="translate(7.2,326.8) scale(0.914,1)" font-size="10.2" text-anchor="start" fill="#000" stroke="#000" stroke-width="0.18" >Sto(5,3,3)</text>
<text transform="translate(51.0,326.8) scale(0.9,1)" font-size="10.2" text-anchor="start" fill="#000" stroke="#000" stroke-width="0.18" >62.9523</text>
<text transform="translate(87.3,326.8) scale(0.9,1)" font-size="10.2" text-anchor="start" fill="#000" stroke="#000" stroke-width="0.18" >60.2787</text>
<text transform="translate(2.5,397.2) scale(0.94,1)" font-size="10.2" text-anchor="start" fill="#000" stroke="#000" stroke-width="0.18" >11 Apr 2017</text>
<text transform="translate(66.5,397.2) scale(0.94,1)" font-size="10.2" text-anchor="start" fill="#000" stroke="#000" stroke-width="0.18" >14 Apr 12:00</text>
<text transform="translate(130.5,397.2) scale(0.94,1)" font-size="10.2" text-anchor="start" fill="#000" stroke="#000" stroke-width="0.18" >19 Apr 04:00</text>
<text transform="translate(194.5,397.2) scale(0.94,1)" font-size="10.2" text-anchor="start" fill="#000" stroke="#000" stroke-width="0.18" >21 Apr 20:00</text>
<text transform="translate(258.5,397.2) scale(0.94,1)" font-size="10.2" text-anchor="start" fill="#000" stroke="#000" stroke-width="0.18" >26 Apr 12:00</text>
<text transform="translate(322.5,397.2) scale(0.94,1)" font-size="10.2" text-anchor="start" fill="#000" stroke="#000" stroke-width="0.18" >1 May 04:00</text>
<text transform="translate(386.5,397.2) scale(0.94,1)" font-size="10.2" text-anchor="start" fill="#000" stroke="#000" stroke-width="0.18" >3 May 20:00</text>
<text transform="translate(450.5,397.2) scale(0.94,1)" font-size="10.2" text-anchor="start" fill="#000" stroke="#000" stroke-width="0.18" >8 May 12:00</text>
<text transform="translate(514.5,397.2) scale(0.94,1)" font-size="10.2" text-anchor="start" fill="#000" stroke="#000" stroke-width="0.18" >11 May 04:00</text>
<text transform="translate(578.5,397.2) scale(0.94,1)" font-size="10.2" text-anchor="start" fill="#000" stroke="#000" stroke-width="0.18" >15 May 20:00</text>
<text transform="translate(642.5,397.2) scale(0.94,1)" font-size="10.2" text-anchor="start" fill="#000" stroke="#000" stroke-width="0.18" >18 May 12:00</text>
<polyline points="3.5,379.5 7.5,378.4 11.5,377.5 15.5,371.3 19.5,361.1 23.5,343.6 27.5,351.1 31.5,365.3 35.5,375.2 39.5,372.7 43.5,362.0 47.5,357.7 51.5,346.3 55.5,343.8 59.5,353.8 63.5,367.3 67.5,379.1 71.5,377.5 75.5,376.9 79.5,378.1 83.5,373.7 87.5,371.3 91.5,360.1 95.5,352.9 99.5,335.6 103.5,329.8 107.5,325.0 111.5,335.4 115.5,339.7 119.5,357.8 123.5,365.8 127.5,373.2 131.5,364.9 135.5,347.1 139.5,327.3 143.5,324.8 147.5,333.7 151.5,340.1 155.5,346.0 159.5,341.3 163.5,346.4 167.5,333.7 171.5,334.0 175.5,331.4 179.5,336.3 183.5,345.5 187.5,355.8 191.5,357.1 195.5,353.7 199.5,338.4 203.5,331.4 207.5,325.4 211.5,324.1 215.5,333.1 219.5,347.6 223.5,363.2 227.5,353.6 231.5,338.4 235.5,327.3 239.5,323.9 243.5,322.6 247.5,322.2 251.5,321.4 255.5,324.1 259.5,330.2 263.5,344.2 267.5,357.4 271.5,359.4 275.5,359.5 279.5,354.9 283.5,345.8 287.5,344.3 291.5,343.0 295.5,363.9 299.5,366.5 303.5,356.4 307.5,345.9 311.5,340.7 315.5,342.9 319.5,337.0 323.5,326.1 327.5,325.8 331.5,333.7 335.5,333.6 339.5,333.7 343.5,326.5 347.5,326.0 351.5,320.1 355.5,326.8 359.5,334.5 363.5,349.6 367.5,353.7 371.5,356.7 375.5,346.7 379.5,329.3 383.5,325.7 387.5,326.4 391.5,328.7 395.5,325.6 399.5,322.4 403.5,327.3 407.5,343.1 411.5,357.7 415.5,363.1 419.5,366.6 423.5,368.9 427.5,364.1 431.5,346.8 435.5,330.5 439.5,325.7 443.5,326.2 447.5,338.0 451.5,346.2 455.5,341.1 459.5,324.5 463.5,322.7 467.5,321.5 471.5,323.0 475.5,321.2 479.5,323.3 483.5,327.7 487.5,336.1 491.5,348.9 495.5,357.7 499.5,361.9 503.5,347.2 507.5,336.1 511.5,327.8 515.5,331.3 519.5,337.2 523.5,353.9 527.5,357.2 531.5,359.2 535.5,353.0 539.5,355.3 543.5,356.9 547.5,363.2 551.5,369.3 555.5,371.0 559.5,367.9 563.5,366.4 567.5,362.7 571.5,350.6 575.5,331.6 579.5,330.6 583.5,339.6 587.5,353.2 591.5,353.6 595.5,353.2 599.5,359.6 603.5,366.3 607.5,373.0 611.5,375.7 615.5,377.8 619.5,380.8 623.5,382.8 627.5,382.7 631.5,377.4 635.5,369.7 639.5,368.6 643.5,361.5 647.5,349.3 651.5,329.9 655.5,331.5 659.5,333.0 663.5,336.5 667.5,334.3 671.5,343.8 675.5,355.5 679.5,355.5 683.5,345.5 687.5,341.6 691.5,341.2" fill="none" stroke="#20b2aa" stroke-width="1" shape-rendering="crispEdges"/>
<polyline points="3.5,375.4 7.5,376.9 11.5,378.4 15.5,375.0 19.5,368.3 23.5,359.3 27.5,353.3 31.5,354.1 35.5,363.8 39.5,372.2 43.5,370.0 47.5,364.1 51.5,355.3 55.5,349.3 59.5,348.0 63.5,354.9 67.5,366.7 71.5,374.6 75.5,377.8 79.5,377.5 83.5,376.2 87.5,374.4 91.5,368.4 95.5,361.4 99.5,349.5 103.5,339.4 107.5,330.1 111.5,330.1 115.5,333.4 119.5,344.3 123.5,354.4 127.5,365.6 131.5,368.0 135.5,361.7 139.5,346.4 143.5,333.1 147.5,328.6 151.5,332.9 155.5,339.9 159.5,342.5 163.5,344.5 167.5,340.4 171.5,338.0 175.5,333.0 179.5,333.9 183.5,337.8 187.5,345.9 191.5,352.8 195.5,355.5 199.5,349.7 203.5,341.2 207.5,331.7 211.5,327.0 215.5,327.5 219.5,334.9 223.5,348.0 227.5,354.8 231.5,351.7 235.5,339.8 239.5,329.9 243.5,324.6 247.5,322.9 251.5,322.1 255.5,322.6 259.5,325.2 263.5,332.8 267.5,343.9 271.5,353.7 275.5,358.8 279.5,358.0 283.5,353.4 287.5,348.3 291.5,344.4 295.5,350.4 299.5,357.8 303.5,362.3 307.5,356.3 311.5,347.7 315.5,343.2 319.5,340.2 323.5,335.4 327.5,329.7 331.5,328.5 335.5,331.0 339.5,333.7 343.5,331.3 347.5,328.7 351.5,324.2 355.5,324.3 359.5,327.1 363.5,336.9 367.5,345.9 371.5,353.3 375.5,352.4 379.5,344.3 383.5,333.9 387.5,327.1 391.5,326.9 395.5,326.9 399.5,325.6 403.5,325.1 407.5,330.9 411.5,342.7 415.5,354.6 419.5,362.5 423.5,366.2 427.5,366.5 431.5,359.9 435.5,347.1 439.5,334.3 443.5,327.5 447.5,330.0 451.5,336.8 455.5,341.8 459.5,337.3 463.5,329.4 467.5,322.9 471.5,322.4 475.5,321.9 479.5,322.5 483.5,324.1 487.5,329.1 491.5,337.6 495.5,347.6 499.5,356.2 503.5,355.6 507.5,348.4 511.5,337.0 515.5,331.7 519.5,332.1 523.5,340.8 527.5,349.4 531.5,356.7 535.5,356.4 539.5,355.8 543.5,355.0 547.5,358.4 551.5,363.1 555.5,367.8 559.5,369.4 563.5,368.4 567.5,365.6 571.5,359.9 575.5,348.3 579.5,337.6 583.5,333.9 587.5,341.1 591.5,348.8 595.5,353.3 599.5,355.5 603.5,359.7 607.5,366.3 611.5,371.7 615.5,375.5 619.5,378.1 623.5,380.5 627.5,382.1 631.5,381.0 635.5,376.6 639.5,371.9 643.5,366.6 647.5,359.8 651.5,346.9 655.5,336.9 659.5,331.5 663.5,333.7 667.5,334.6 671.5,338.2 675.5,344.5 679.5,351.6 683.5,352.2 687.5,348.2 691.5,343.2" fill="none" stroke="#ff0000" stroke-width="1" shape-rendering="crispEdges"/>

<circle cx="34.4" cy="56" r="17.9" fill="#2b86c9"/>
<path d="M23.9 51.2H31.5V53.6H26.3V56.2H30.8V58.5H26.3V70.9H23.9Z" fill="#fff"/>
<path d="M33.0 55.8L41.0 63.8" stroke="#fff" stroke-width="3.1" fill="none"/>
<path d="M33.4 64.0L45.0 48.0" stroke="#fff" stroke-width="3.1" fill="none"/>
<path d="M47.4 44.6L47.3 50.4L42.6 46.6Z" fill="#fff"/>
<text x="54.01 66.44 80.86 90.63 103.59 115.72 134.05 148.36 158.47" y="64.3" font-family="'Liberation Sans', Arial, sans-serif" font-weight="bold" font-size="21.8" fill="#2b86c9">ForexMart</text>
<path d="M109.5 57L117.6 46.6" stroke="#2b86c9" stroke-width="2.8" fill="none"/>
<path d="M120.7 41.2L120.3 49.0L113.8 45.0Z" fill="#2b86c9"/>

</svg>
</body></html>
